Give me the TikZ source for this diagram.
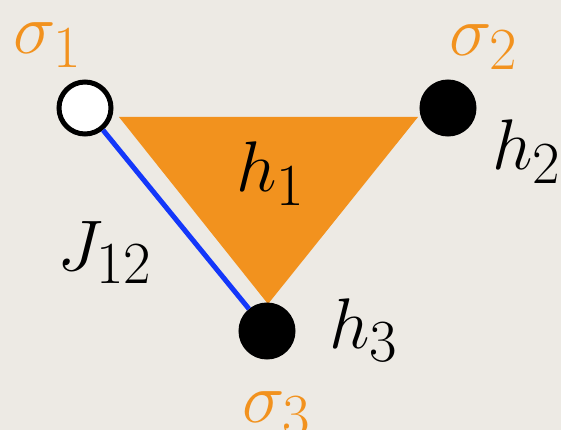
\documentclass[tikz,border=0pt]{standalone}
\usepackage{amsmath}

\definecolor{paper}{RGB}{237,234,228}
\definecolor{fieldorange}{RGB}{242,146,30}
\definecolor{bondblue}{RGB}{20,55,250}

\begin{document}
\begin{tikzpicture}[x=1pt,y=-1pt,
  spin/.style={circle, draw=black, line width=5pt, minimum size=52pt, inner sep=0pt},
  lab/.style={font=\Huge, scale=2.88, inner sep=0pt, anchor=base},
  spinlab/.style={lab, text=fieldorange}]
  % Paper background
  \fill[paper] (0,0) rectangle (561,430);
  \useasboundingbox (0,0) rectangle (561,430);

  % Three-body field (triangle)
  \fill[fieldorange] (119,117) -- (418,117) -- (268,304) -- cycle;
  \node[lab] (h1) at (271,192) {$h_1$};

  % Spins
  \node[spin, fill=white] (s1) at (85,108) {};
  \node[spin, fill=black] (s2) at (448,108) {};
  \node[spin, fill=black] (s3) at (267,331) {};

  % Coupling
  \draw[bondblue, line width=5pt] (s1) -- (s3);
  \node[lab] (J12) at (105,270) {$J_{12}$};

  % Spin labels
  \node[spinlab] (l1) at (48,54) {$\sigma_1$};
  \node[spinlab] (l2) at (484,56) {$\sigma_2$};
  \node[spinlab] (l3) at (277,422) {$\sigma_3$};

  % Local fields
  \node[lab] (h2) at (527,170) {$h_2$};
  \node[lab] (h3) at (364,348) {$h_3$};
\end{tikzpicture}
\end{document}
